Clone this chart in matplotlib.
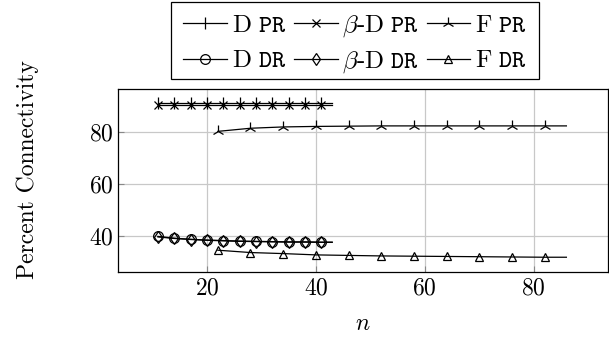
import matplotlib
matplotlib.use('Agg')
import matplotlib.pyplot as plt
from matplotlib.patches import Rectangle

plt.rcParams['font.family'] = 'cmr10'
plt.rcParams['mathtext.fontset'] = 'cm'
plt.rcParams['axes.formatter.use_mathtext'] = True

# data (n values, markers on all but the last point)
d_n = [11, 14, 17, 20, 23, 26, 29, 32, 35, 38, 41, 43]
d_pr = [90.9, 90.9, 90.9, 90.9, 90.9, 90.9, 90.9, 90.9, 90.9, 90.9, 90.9, 90.9]
bd_pr = [90.3, 90.3, 90.3, 90.3, 90.3, 90.3, 90.3, 90.3, 90.3, 90.3, 90.3, 90.3]
d_dr = [39.9, 39.2, 38.8, 38.5, 38.3, 38.1, 38.0, 37.9, 37.8, 37.8, 37.7, 37.7]
bd_dr = [39.7, 39.1, 38.7, 38.4, 38.2, 38.0, 37.9, 37.8, 37.7, 37.7, 37.6, 37.6]

f_n = [22, 28, 34, 40, 46, 52, 58, 64, 70, 76, 82, 86]
f_pr = [80.2, 81.4, 81.9, 82.1, 82.2, 82.3, 82.3, 82.3, 82.3, 82.3, 82.3, 82.3]
f_dr = [34.6, 33.7, 33.3, 32.8, 32.6, 32.4, 32.3, 32.2, 32.1, 32.0, 31.9, 31.9]

fig = plt.figure(figsize=(6.09, 3.38), dpi=100)
ax = fig.add_axes([0.194, 0.195, 0.804, 0.542])

kw = dict(color='black', lw=0.9, mfc='none', mec='black', mew=0.9,
          markevery=list(range(11)))
h1, = ax.plot(d_n, d_pr, marker='|', ms=9, label=r'$\mathrm{D}\ \mathtt{PR}$', **kw)
h2, = ax.plot(d_n, bd_pr, marker='x', ms=6, label=r'$\beta\mathrm{\text{-}D}\ \mathtt{PR}$', **kw)
h3, = ax.plot(f_n, f_pr, marker='2', ms=9, label=r'$\mathrm{F}\ \mathtt{PR}$', **kw)
h4, = ax.plot(d_n, d_dr, marker='o', ms=7, label=r'$\mathrm{D}\ \mathtt{DR}$', **kw)
h5, = ax.plot(d_n, bd_dr, marker='d', ms=6, label=r'$\beta\mathrm{\text{-}D}\ \mathtt{DR}$', **kw)
h6, = ax.plot(f_n, f_dr, marker='^', ms=6, label=r'$\mathrm{F}\ \mathtt{DR}$', **kw)

ax.set_xlim(3.7, 93.6)
ax.set_ylim(26.2, 96.5)
ax.set_xticks([20, 40, 60, 80])
ax.set_yticks([40, 60, 80])
ax.grid(True, color='#c8c8c8', lw=0.9)
ax.set_axisbelow(True)
ax.tick_params(direction='in', labelsize=17, length=4, color='#888888')
for s in ax.spines.values():
    s.set_linewidth(0.9)

ax.set_xlabel('$n$', fontsize=17)
ax.xaxis.set_label_coords(0.5, -0.22)
ax.set_ylabel('Percent Connectivity', fontsize=17)
ax.yaxis.set_label_coords(-0.162, 0.56)

# legend: one row per legend so baselines line up, plus a shared frame
leg_kw = dict(ncol=3, loc='center', fontsize=18, frameon=False,
              handlelength=1.75, handletextpad=0.18, columnspacing=0.3,
              borderpad=0.0)
leg1 = fig.legend([h1, h2, h3], [h.get_label() for h in [h1, h2, h3]],
                  bbox_to_anchor=(0.583, 0.922), **leg_kw)
leg2 = fig.legend([h4, h5, h6], [h.get_label() for h in [h4, h5, h6]],
                  bbox_to_anchor=(0.583, 0.817), **leg_kw)
fig.patches.append(Rectangle((0.281, 0.766), 0.604, 0.228, transform=fig.transFigure,
                             fill=False, edgecolor='black', lw=0.9))

fig.savefig('out.png', dpi=100)
